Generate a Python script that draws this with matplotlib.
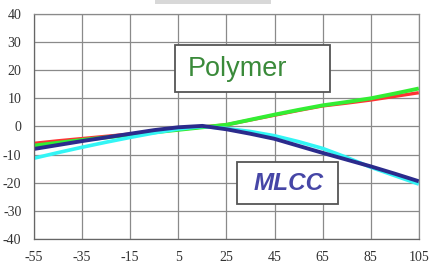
import matplotlib.pyplot as plt
from matplotlib.patches import Rectangle

plt.rcParams["axes.unicode_minus"] = False

# temperature (°C) and capacitance change (%)
temps = [-55, -45, -35, -25, -15, -5, 5, 15, 25, 35, 45, 55, 65, 75, 85, 95, 105]
polymer_red = [-6.0, -5.1, -4.3, -3.5, -2.7, -1.9, -1.1, -0.2, 0.6, 2.3, 4.0, 5.7, 7.3, 8.3, 9.4, 10.7, 12.0]
polymer_green = [-6.8, -5.8, -4.8, -3.9, -3.0, -2.1, -1.2, -0.3, 0.6, 2.4, 4.2, 5.9, 7.5, 8.7, 10.0, 11.7, 13.5]
mlcc_cyan = [-11.3, -9.3, -7.4, -5.6, -3.9, -2.3, -0.9, 0.0, -0.7, -1.8, -3.3, -5.4, -7.8, -11.0, -14.5, -17.5, -20.5]
mlcc_navy = [-8.0, -6.6, -5.2, -3.9, -2.6, -1.3, -0.3, 0.2, -1.0, -2.6, -4.4, -6.9, -9.4, -11.8, -14.2, -16.8, -19.5]

x_ticks = [-55, -35, -15, 5, 25, 45, 65, 85, 105]
y_ticks = [-40, -30, -20, -10, 0, 10, 20, 30, 40]

fig = plt.figure(figsize=(4.3, 2.64), dpi=100)
ax = fig.add_axes([0.079, 0.095, 0.895, 0.852])

# faint grey bar at the top (watermark remnant)
fig.patches.append(Rectangle((0.36, 0.985), 0.27, 0.015, transform=fig.transFigure,
                             facecolor="#d8d8d8", edgecolor="none"))

ax.plot(temps, polymer_red, color="#ff3333", lw=2.4, solid_capstyle="butt")
ax.plot(temps, polymer_green, color="#33ee33", lw=2.8, solid_capstyle="butt")
ax.plot(temps, mlcc_cyan, color="#33f5f5", lw=2.6, solid_capstyle="butt")
ax.plot(temps, mlcc_navy, color="#2b2b8c", lw=2.8, solid_capstyle="butt")

ax.set_xlim(-55, 105)
ax.set_ylim(-40, 40)
ax.set_xticks(x_ticks)
ax.set_yticks(y_ticks)
ax.grid(True, color="#8a8a8a", lw=0.9)
ax.set_axisbelow(True)
ax.tick_params(length=0, labelsize=10, colors="#333333")
ax.tick_params(axis="x", pad=9)
ax.tick_params(axis="y", pad=9)
for lab in ax.get_xticklabels() + ax.get_yticklabels():
    lab.set_family("Liberation Serif")
for s in ax.spines.values():
    s.set_color("#8a8a8a")
    s.set_linewidth(0.9)
ax.spines["left"].set_color("#666666")
ax.spines["bottom"].set_color("#666666")

# label boxes
ax.add_patch(Rectangle((3.6, 12.3), 64.4, 16.7, facecolor="white", edgecolor="#555555",
                       lw=1.3, zorder=5))
ax.text(29.6, 20.4, "Polymer", ha="center", va="center", fontsize=19.5, color="#3a8a3a",
        family="Liberation Sans", zorder=6)
ax.add_patch(Rectangle((29.4, -27.6), 42.0, 15.0, facecolor="white", edgecolor="#555555",
                       lw=1.3, zorder=5))
ax.text(50.8, -20.4, "MLCC", ha="center", va="center", fontsize=17.5, color="#4646a6",
        family="Liberation Sans", fontweight="bold", fontstyle="italic", zorder=6)

fig.savefig("out.png", dpi=100)
